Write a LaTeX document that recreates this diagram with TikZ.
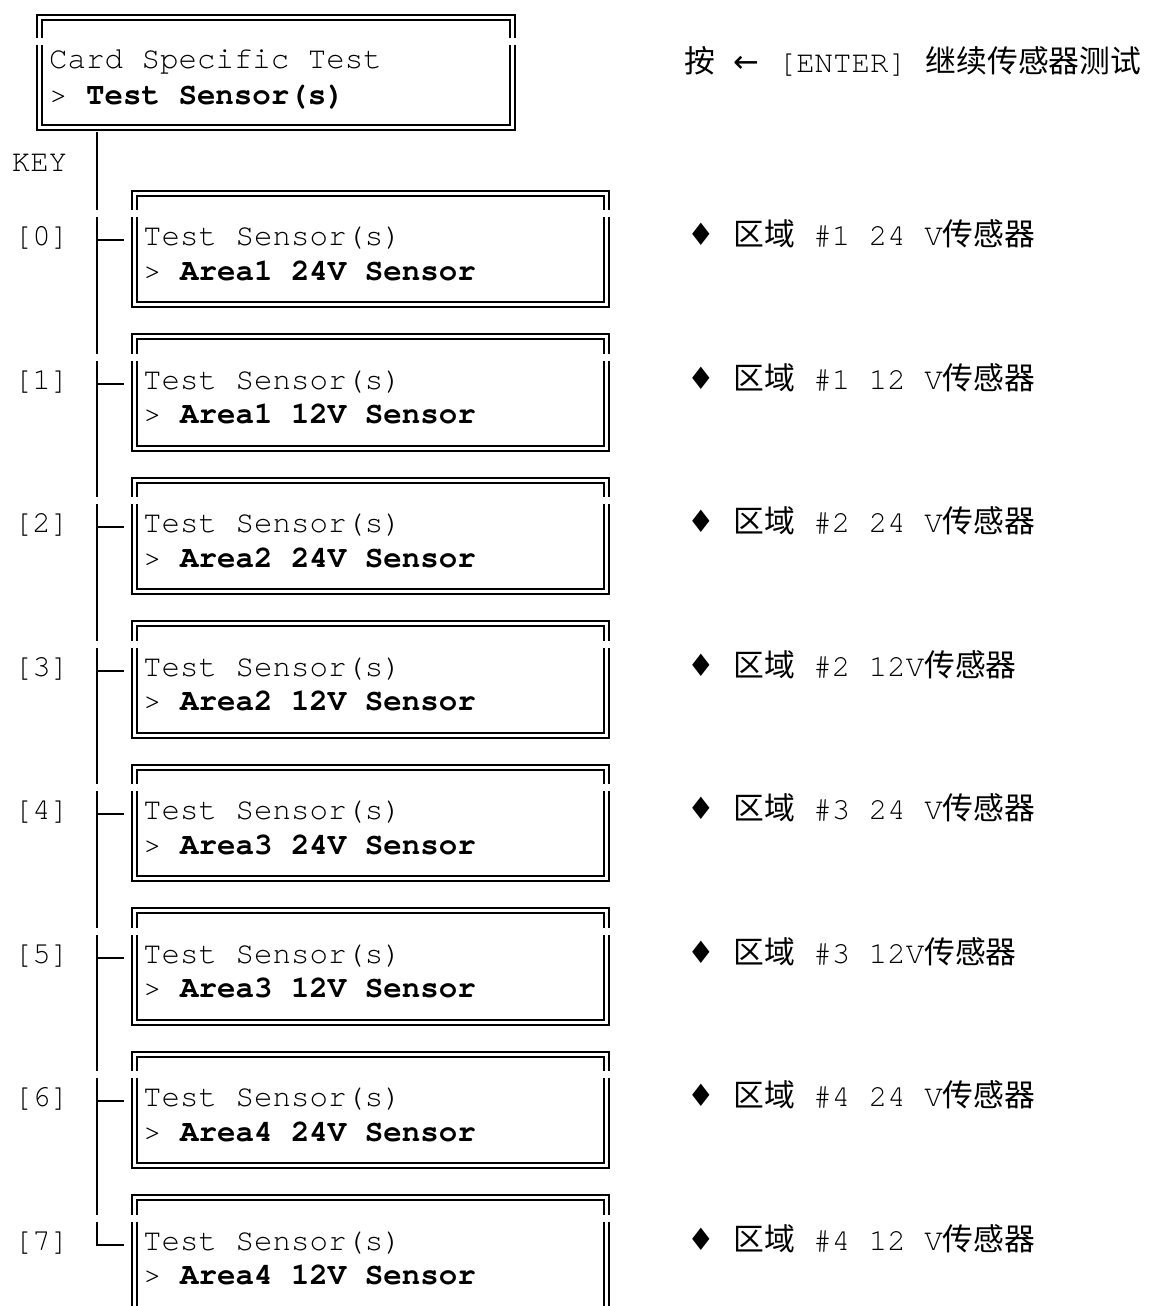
\documentclass[tikz,border=0pt]{standalone}
\usepackage{fontspec}
\setmonofont[Ligatures={NoCommon}]{TeX Gyre Cursor}
\newfontfamily\cjk{Noto Sans CJK SC}
\newfontfamily\djv{DejaVu Sans}
\newcommand\zh[1]{{\cjk #1}}
\newcommand\sy[1]{{\djv #1}}
\begin{document}
\begin{tikzpicture}[x=1pt,y=1pt,
  dbox/.style={draw, line width=2pt, double, double distance=3pt, inner sep=0pt,
               minimum width=472.5pt, minimum height=111.7pt},
  mono/.style={font=\ttfamily\fontsize{30.8}{36}\selectfont, inner sep=0pt},
  wire/.style={line width=2pt},
  gap/.style={fill=white, draw=none}]
\useasboundingbox (0,0) rectangle (1161,-1306);
\clip (0,0) rectangle (1161,-1306);

% top box
\node[dbox, minimum height=109.5pt] (top) at (275.75,-72.75) {};
\fill[gap] (30,-38) rectangle (48,-45);
\fill[gap] (504,-38) rectangle (520,-45);
\node[mono, anchor=base west] (topa) at (49,-69) {Card Specific Test};
\node[mono, anchor=base west] (topb) at (49,-104) {> \textbf{Test Sensor(s)}};
\node[mono, anchor=base west] (hint) at (684,-72) {\zh{按} \sy{←} [ENTER] \zh{继续传感器测试}};
\node[mono, anchor=base] (key) at (39.5,-171) {KEY};

% rows
\foreach \i/\a/\z in {0/Area1 24V Sensor/\#1 24 V,
                      1/Area1 12V Sensor/\#1 12 V,
                      2/Area2 24V Sensor/\#2 24 V,
                      3/Area2 12V Sensor/\#2 12V,
                      4/Area3 24V Sensor/\#3 24 V,
                      5/Area3 12V Sensor/\#3 12V,
                      6/Area4 24V Sensor/\#4 24 V,
                      7/Area4 12V Sensor/\#4 12 V}{
  \pgfmathsetmacro\yy{-237-143.5*\i}
  \node[dbox] (b\i) at (370.25,\yy-11.85) {};
  \node[mono, anchor=base west] (ta\i) at (143,\yy-8.5) {Test Sensor(s)};
  \node[mono, anchor=base west] (tb\i) at (143,\yy-43) {> \textbf{\a}};
  \node[mono, anchor=base] (k\i) at (41.5,\yy-8.5) {[\i]};
  \node[mono, anchor=base west] (r\i) at (687,\yy-8.5) {\sy{♦} \zh{区域} \z\zh{传感器}};
  \coordinate (row\i) at (96.7,\yy-3);
}

% trunk and branches
\draw[wire, shorten <=3.5pt, shorten >=9pt] (row7 |- top.south) -- (row7) -- (b7.west |- row7);
\foreach \i in {0,...,6}{
  \draw[wire, shorten >=9pt] (row\i) -- (b\i.west |- row\i);
}

% small breaks of the character-drawn lines
\foreach \i in {0,...,7}{
  \pgfmathsetmacro\gt{-210-143.5*\i}
  \fill[gap] (92,\gt) rectangle (102,\gt-7);
  \fill[gap] (126,\gt) rectangle (141,\gt-7);
  \fill[gap] (599,\gt) rectangle (615,\gt-7);
}
\end{tikzpicture}
\end{document}
